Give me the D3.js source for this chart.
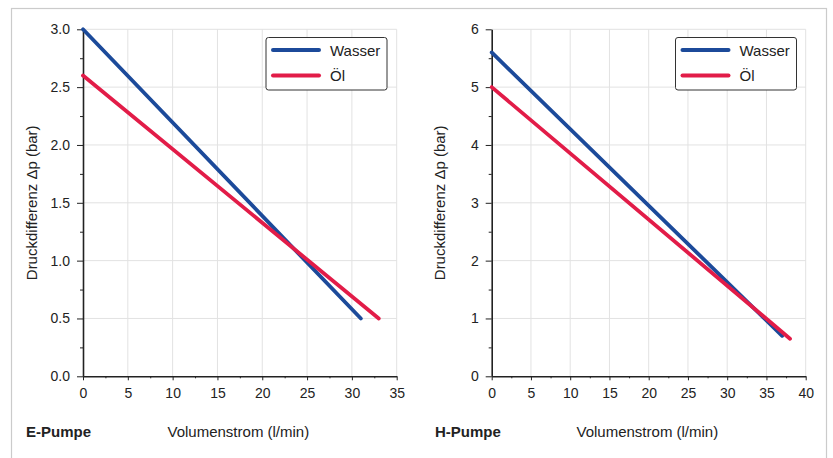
<!DOCTYPE html>
<html>
<head>
<meta charset="utf-8">
<script src="https://cdn.jsdelivr.net/npm/d3@7"></script>
<style>
  body { margin: 0; background: #fff; }
  text { font-family: "Liberation Sans", Arial, Helvetica, sans-serif; fill: #222; }
  .grid line { stroke: #e2e2e2; stroke-width: 1; }
  .axis path, .axis line { stroke: #222; }
</style>
</head>
<body>
<div class="content"></div>
<script>
// DATA
var series = ['Wasser', 'Öl'];
var colors = ['#1c4a9a', '#e21c48'];

// E-Pumpe: start / end points (l/min, bar)
var eWasser = [[0, 3.0], [31, 0.5]];
var eOel    = [[0, 2.6], [33, 0.5]];
var eXTicks = [0, 5, 10, 15, 20, 25, 30, 35];
var eYTicks = [0, 0.5, 1.0, 1.5, 2.0, 2.5, 3.0];

// H-Pumpe
var hWasser = [[0, 5.6], [37, 0.7]];
var hOel    = [[0, 5.0], [38, 0.65]];
var hXTicks = [0, 5, 10, 15, 20, 25, 30, 35, 40];
var hYTicks = [0, 1, 2, 3, 4, 5, 6];

var panelTitles = ['E-Pumpe', 'H-Pumpe'];
var xLabel = 'Volumenstrom (l/min)';
var yLabel = 'Druckdifferenz \u0394p (bar)';

// SVG
var w = 833, h = 458;
var svg = d3.select('.content').append('svg')
    .attr('width', w)
    .attr('height', h);

// outer frame
svg.append('rect')
    .attr('x', 11.5).attr('y', 8.5)
    .attr('width', 815).attr('height', 470)
    .attr('fill', 'none')
    .attr('stroke', '#cbcbcb')
    .attr('stroke-width', 1.2);

function panel(opt) {
    var x = d3.scaleLinear().domain([0, opt.xMax]).range([opt.left, opt.right]);
    var y = d3.scaleLinear().domain([0, opt.yMax]).range([376.3, 29.3]);

    var g = svg.append('g');

    // GRID
    var grid = g.append('g').attr('class', 'grid');
    grid.selectAll('.vx').data(opt.xTicks.slice(1)).enter().append('line')
        .attr('x1', function(d) { return x(d); }).attr('x2', function(d) { return x(d); })
        .attr('y1', y(0)).attr('y2', y(opt.yMax));
    grid.selectAll('.hy').data(opt.yTicks.slice(1)).enter().append('line')
        .attr('y1', function(d) { return y(d); }).attr('y2', function(d) { return y(d); })
        .attr('x1', x(0)).attr('x2', x(opt.xMax));

    // MINOR TICKS
    var xMinor = opt.xTicks.slice(1).map(function(d) { return d - 2.5; });
    var yStep = opt.yTicks[1] - opt.yTicks[0];
    var yMinor = opt.yTicks.slice(1).map(function(d) { return d - yStep / 2; });

    g.append('g').attr('class', 'axis')
        .attr('transform', 'translate(0,' + y(0) + ')')
        .call(d3.axisBottom(x).tickValues(xMinor).tickSize(2).tickFormat(''))
        .call(function(s) { s.select('.domain').remove(); });
    g.append('g').attr('class', 'axis')
        .attr('transform', 'translate(' + x(0) + ',0)')
        .call(d3.axisLeft(y).tickValues(yMinor).tickSize(3).tickFormat(''))
        .call(function(s) { s.select('.domain').remove(); });

    // AXES
    var xAxis = g.append('g').attr('class', 'axis')
        .attr('transform', 'translate(0,' + y(0) + ')')
        .call(d3.axisBottom(x).tickValues(opt.xTicks).tickSize(4).tickSizeOuter(0).tickPadding(8));
    xAxis.select('.domain').attr('stroke-width', 1.6);
    xAxis.selectAll('text').style('font-size', '14px').attr('fill', '#222');

    var yAxis = g.append('g').attr('class', 'axis')
        .attr('transform', 'translate(' + x(0) + ',0)')
        .call(d3.axisLeft(y).tickValues(opt.yTicks).tickFormat(opt.yFormat).tickSize(6).tickSizeOuter(0).tickPadding(7));
    yAxis.select('.domain').attr('stroke-width', 1.6);
    yAxis.selectAll('text').style('font-size', '14px').attr('fill', '#222');

    // LINES
    var line = d3.line().x(function(d) { return x(d[0]); }).y(function(d) { return y(d[1]); });
    opt.data.forEach(function(pts, i) {
        g.append('path')
            .attr('d', line(pts))
            .attr('fill', 'none')
            .attr('stroke', colors[i])
            .attr('stroke-width', 3.8)
            .attr('stroke-linecap', 'round');
    });

    // LEGEND
    var lg = g.append('g').attr('transform', 'translate(' + opt.legendX + ',37.5)');
    lg.append('rect')
        .attr('width', 121).attr('height', 52.5)
        .attr('rx', 2.5)
        .attr('fill', '#fff')
        .attr('stroke', '#333')
        .attr('stroke-width', 1);
    series.forEach(function(s, i) {
        lg.append('line')
            .attr('x1', 7).attr('x2', 53)
            .attr('y1', 12.5 + i * 25.5).attr('y2', 12.5 + i * 25.5)
            .attr('stroke', colors[i])
            .attr('stroke-width', 4)
            .attr('stroke-linecap', 'round');
        lg.append('text')
            .attr('x', 64).attr('y', 18 + i * 25.5)
            .style('font-size', '15px')
            .text(s);
    });

    // LABELS
    g.append('text')
        .attr('transform', 'translate(' + opt.yLabelX + ',' + ((y(0) + y(opt.yMax)) / 2) + ') rotate(-90)')
        .attr('text-anchor', 'middle')
        .style('font-size', '15px')
        .text(yLabel);
    g.append('text')
        .attr('x', opt.titleX).attr('y', 437)
        .style('font-size', '15px')
        .style('font-weight', 'bold')
        .text(opt.title);
    g.append('text')
        .attr('x', opt.xLabelX).attr('y', 437)
        .style('font-size', '15px')
        .text(xLabel);
}

panel({
    left: 83, right: 396.7, xMax: 35, yMax: 3,
    xTicks: eXTicks, yTicks: eYTicks, yFormat: d3.format('.1f'),
    data: [eWasser, eOel], legendX: 266, yLabelX: 37,
    title: panelTitles[0], titleX: 26, xLabelX: 167.5
});

panel({
    left: 491.7, right: 805.7, xMax: 40, yMax: 6,
    xTicks: hXTicks, yTicks: hYTicks, yFormat: d3.format('d'),
    data: [hWasser, hOel], legendX: 675.5, yLabelX: 445,
    title: panelTitles[1], titleX: 435, xLabelX: 576.5
});
</script>
</body>
</html>
